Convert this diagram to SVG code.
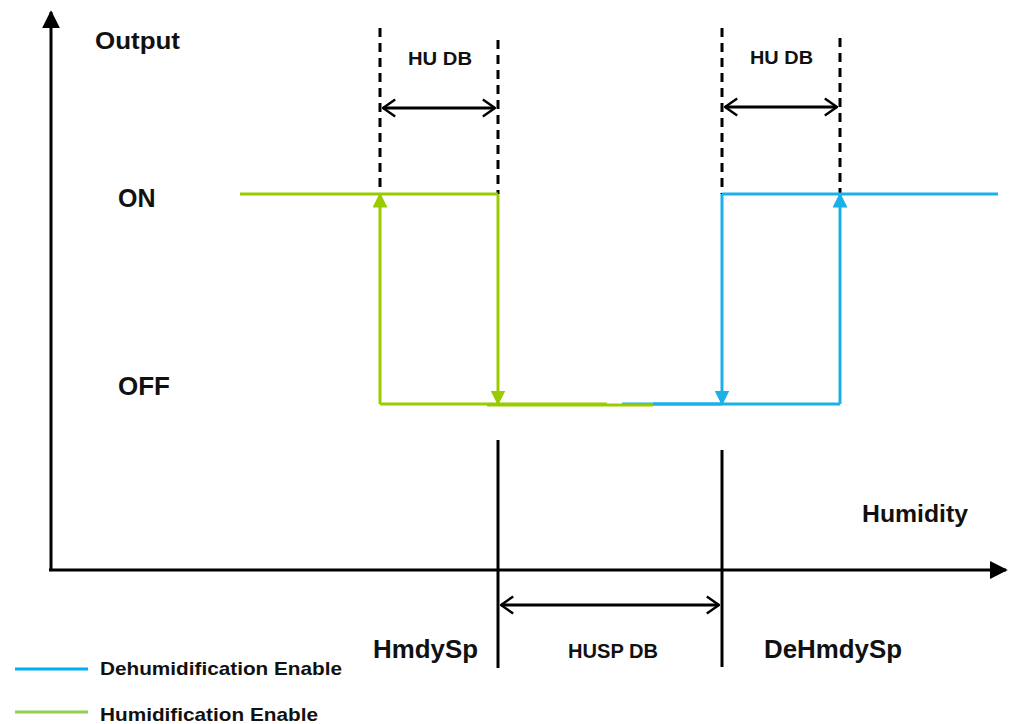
<svg xmlns="http://www.w3.org/2000/svg" width="1013" height="724" viewBox="0 0 1013 724">
<style>
text{font-family:"Liberation Sans",Arial,sans-serif;font-weight:bold;fill:#111}
.ax{stroke:#000;stroke-width:3;fill:none}
.dash{stroke:#000;stroke-width:3;stroke-dasharray:9,6;fill:none}
.dim{stroke:#000;stroke-width:3;fill:none}
.g{stroke:#99cc00;stroke-width:3;fill:none}
.b{stroke:#1ab0ea;stroke-width:3;fill:none}
</style>
<defs>
<marker id="axh" viewBox="0 0 10 10" refX="9" refY="5" markerWidth="6" markerHeight="6" orient="auto" markerUnits="strokeWidth"><path d="M0,0L10,5L0,10z" fill="#000"/></marker>
<marker id="open" viewBox="0 0 12 16" refX="11" refY="8" markerWidth="5" markerHeight="6.5" orient="auto-start-reverse" markerUnits="strokeWidth"><path d="M1,1L11,8L1,15" fill="none" stroke="#000" stroke-width="2"/></marker>
<marker id="ga" viewBox="0 0 10 10" refX="9" refY="5" markerWidth="5" markerHeight="5" orient="auto" markerUnits="strokeWidth"><path d="M0,0L10,5L0,10z" fill="#99cc00"/></marker>
<marker id="ba" viewBox="0 0 10 10" refX="9" refY="5" markerWidth="5" markerHeight="5" orient="auto" markerUnits="strokeWidth"><path d="M0,0L10,5L0,10z" fill="#1ab0ea"/></marker>
</defs>
<g id="axes">
<line class="ax" x1="51" y1="571" x2="51" y2="12" marker-end="url(#axh)"/>
<line class="ax" x1="49" y1="570" x2="1006" y2="570" marker-end="url(#axh)"/>
</g>
<g id="connectors">
<line class="dash" x1="380" y1="28" x2="380" y2="194"/>
<line class="dash" x1="498" y1="40" x2="498" y2="194"/>
<line class="dash" x1="722" y1="28" x2="722" y2="194"/>
<line class="dash" x1="840" y1="38" x2="840" y2="194"/>
<line class="dim" x1="383" y1="108" x2="495" y2="108" marker-start="url(#open)" marker-end="url(#open)"/>
<line class="dim" x1="725" y1="107" x2="837" y2="107" marker-start="url(#open)" marker-end="url(#open)"/>
<line class="ax" x1="498" y1="440" x2="498" y2="668"/>
<line class="ax" x1="722" y1="450" x2="722" y2="667"/>
<line class="dim" x1="501" y1="605" x2="719" y2="605" marker-start="url(#open)" marker-end="url(#open)"/>
</g>
<g id="humidification">
<line class="g" x1="240" y1="194" x2="498" y2="194"/>
<line class="g" x1="380" y1="404" x2="380" y2="194" marker-end="url(#ga)"/>
<line class="g" x1="498" y1="194" x2="498" y2="404" marker-end="url(#ga)"/>
<line class="b" x1="622" y1="404" x2="722" y2="404"/>
<line class="g" x1="380" y1="404" x2="607" y2="404"/>
<line class="g" x1="487" y1="405" x2="653" y2="405"/>
</g>
<g id="dehumidification">
<line class="b" x1="653" y1="404" x2="840" y2="404"/>
<line class="b" x1="722" y1="194" x2="722" y2="404" marker-end="url(#ba)"/>
<line class="b" x1="722" y1="194" x2="998" y2="194"/>
<line class="b" x1="840" y1="404" x2="840" y2="194" marker-end="url(#ba)"/>
</g>
<g id="labels">
<text x="95" y="49" font-size="23" textLength="85" lengthAdjust="spacingAndGlyphs">Output</text>
<text x="118" y="207" font-size="25">ON</text>
<text x="118" y="395" font-size="25" textLength="52" lengthAdjust="spacingAndGlyphs">OFF</text>
<text x="408" y="65" font-size="18" textLength="64" lengthAdjust="spacingAndGlyphs">HU DB</text>
<text x="750" y="64" font-size="18" textLength="63" lengthAdjust="spacingAndGlyphs">HU DB</text>
<text x="862" y="522" font-size="24" textLength="106" lengthAdjust="spacingAndGlyphs">Humidity</text>
<text x="373" y="658" font-size="26" textLength="105" lengthAdjust="spacingAndGlyphs">HmdySp</text>
<text x="764" y="658" font-size="26" textLength="138" lengthAdjust="spacingAndGlyphs">DeHmdySp</text>
<text x="568" y="658" font-size="20" textLength="90" lengthAdjust="spacingAndGlyphs">HUSP DB</text>
</g>
<g id="legend">
<line stroke="#00b0f0" stroke-width="3" x1="15" y1="669" x2="88" y2="669"/>
<text x="100" y="675" font-size="19" textLength="242" lengthAdjust="spacingAndGlyphs">Dehumidification Enable</text>
<line stroke="#92d050" stroke-width="3" x1="15" y1="712" x2="88" y2="712"/>
<text x="100" y="721" font-size="19" textLength="218" lengthAdjust="spacingAndGlyphs">Humidification Enable</text>
</g>
</svg>
